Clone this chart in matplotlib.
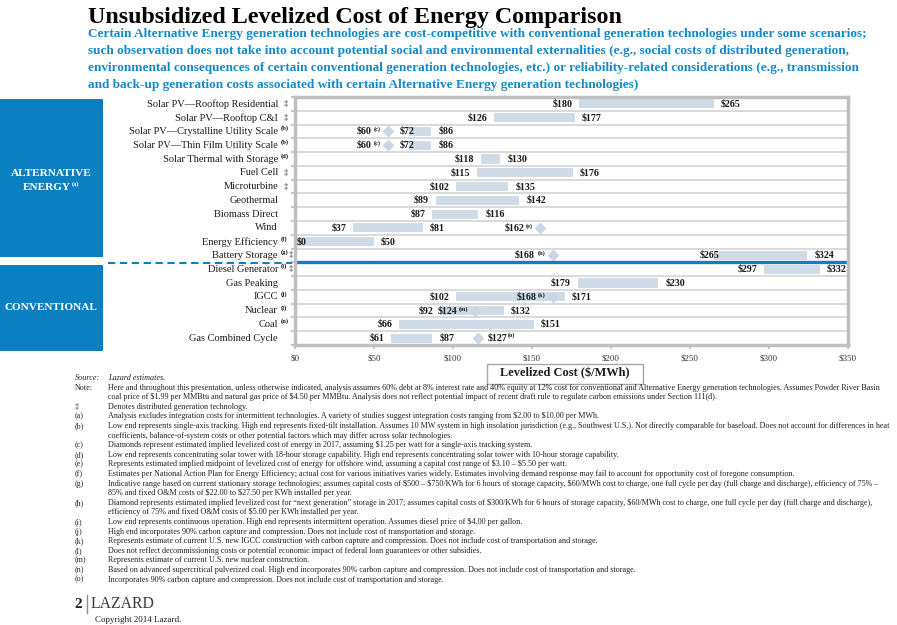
import numpy as np
import matplotlib
matplotlib.use('Agg')
import matplotlib.pyplot as plt
from matplotlib.transforms import Affine2D, blended_transform_factory
from matplotlib.patches import Rectangle
from matplotlib.lines import Line2D

# ---------------- data ----------------
categories = ["Solar PV\u2014Rooftop Residential", "Solar PV\u2014Rooftop C&I",
              "Solar PV\u2014Crystalline Utility Scale", "Solar PV\u2014Thin Film Utility Scale",
              "Solar Thermal with Storage", "Fuel Cell", "Microturbine", "Geothermal",
              "Biomass Direct", "Wind", "Energy Efficiency", "Battery Storage",
              "Diesel Generator", "Gas Peaking", "IGCC", "Nuclear", "Coal", "Gas Combined Cycle"]
category_notes = ["", "", "(b)", "(b)", "(d)", "", "", "", "", "", "(f)", "(g)",
                  "(i)", "", "(j)", "(l)", "(n)", ""]
distributed = [True, True, False, False, False, True, True, False, False, False, False, True,
               True, False, False, False, False, False]
low = [180, 126, 72, 72, 118, 115, 102, 89, 87, 37, 0, 265, 297, 179, 102, 92, 66, 61]
high = [265, 177, 86, 86, 130, 176, 135, 142, 116, 81, 50, 324, 332, 230, 171, 132, 151, 87]
diamond = [None, None, 59, 59, None, None, None, None, None, 155, None, 163,
           None, None, 163, 114, None, 116]
diamond_label = [None, None, "$60", "$60", None, None, None, None, None, "$162", None, "$168",
                 None, None, "$168", "$124", None, "$127"]
diamond_note = [None, None, "(c)", "(c)", None, None, None, None, None, "(e)", None, "(h)",
                None, None, "(k)", "(m)", None, "(o)"]
n_alternative = 12
x_ticks = [0, 50, 100, 150, 200, 250, 300, 350]
x_tick_labels = ["$0", "$50", "$100", "$150", "$200", "$250", "$300", "$350"]

title = "Unsubsidized Levelized Cost of Energy Comparison"
subtitle = [
    "Certain Alternative Energy generation technologies are cost-competitive with conventional generation technologies under some scenarios;",
    "such observation does not take into account potential social and environmental externalities (e.g., social costs of distributed generation,",
    "environmental consequences of certain conventional generation technologies, etc.) or reliability-related considerations (e.g., transmission",
    "and back-up generation costs associated with certain Alternative Energy generation technologies)",
]
x_label = "Levelized Cost ($/MWh)"
footnotes = [
    ("Source:", "Lazard estimates."),
    ("Note:", "Here and throughout this presentation, unless otherwise indicated, analysis assumes 60% debt at 8% interest rate and 40% equity at 12% cost for conventional and Alternative Energy generation technologies. Assumes Powder River Basin"),
    ("", "coal price of $1.99 per MMBtu and natural gas price of $4.50 per MMBtu. Analysis does not reflect potential impact of recent draft rule to regulate carbon emissions under Section 111(d)."),
    ("\u2021", "Denotes distributed generation technology."),
    ("(a)", "Analysis excludes integration costs for intermittent technologies. A variety of studies suggest integration costs ranging from $2.00 to $10.00 per MWh."),
    ("(b)", "Low end represents single-axis tracking. High end represents fixed-tilt installation. Assumes 10 MW system in high insolation jurisdiction (e.g., Southwest U.S.). Not directly comparable for baseload. Does not account for differences in heat"),
    ("", "coefficients, balance-of-system costs or other potential factors which may differ across solar technologies."),
    ("(c)", "Diamonds represent estimated implied levelized cost of energy in 2017, assuming $1.25 per watt for a single-axis tracking system."),
    ("(d)", "Low end represents concentrating solar tower with 18-hour storage capability. High end represents concentrating solar tower with 10-hour storage capability."),
    ("(e)", "Represents estimated implied midpoint of levelized cost of energy for offshore wind, assuming a capital cost range of $3.10 \u2013 $5.50 per watt."),
    ("(f)", "Estimates per National Action Plan for Energy Efficiency; actual cost for various initiatives varies widely. Estimates involving demand response may fail to account for opportunity cost of foregone consumption."),
    ("(g)", "Indicative range based on current stationary storage technologies; assumes capital costs of $500 \u2013 $750/KWh for 6 hours of storage capacity, $60/MWh cost to charge, one full cycle per day (full charge and discharge), efficiency of 75% \u2013"),
    ("", "85% and fixed O&M costs of $22.00 to $27.50 per KWh installed per year."),
    ("(h)", "Diamond represents estimated implied levelized cost for \u201cnext generation\u201d storage in 2017; assumes capital costs of $300/KWh for 6 hours of storage capacity, $60/MWh cost to charge, one full cycle per day (full charge and discharge),"),
    ("", "efficiency of 75% and fixed O&M costs of $5.00 per KWh installed per year."),
    ("(i)", "Low end represents continuous operation. High end represents intermittent operation. Assumes diesel price of $4.00 per gallon."),
    ("(j)", "High end incorporates 90% carbon capture and compression. Does not include cost of transportation and storage."),
    ("(k)", "Represents estimate of current U.S. new IGCC construction with carbon capture and compression. Does not include cost of transportation and storage."),
    ("(l)", "Does not reflect decommissioning costs or potential economic impact of federal loan guarantees or other subsidies."),
    ("(m)", "Represents estimate of current U.S. new nuclear construction."),
    ("(n)", "Based on advanced supercritical pulverized coal. High end incorporates 90% carbon capture and compression. Does not include cost of transportation and storage."),
    ("(o)", "Incorporates 90% carbon capture and compression. Does not include cost of transportation and storage."),
]

# ---------------- style ----------------
W, H = 897, 625
SERIF = ['Liberation Serif', 'DejaVu Serif']
plt.rcParams['font.family'] = SERIF
BLUE_BOX = '#0a7fc1'
BLUE_TXT = '#1389c9'
BAR = '#cfdbe6'
DIAM = '#cad6e2'
GRID = '#d9d9d9'
SPINE = '#bfbfbf'
TXT = '#1a1a1a'
NM = dict(parse_math=False)

fig = plt.figure(figsize=(W / 100, H / 100), dpi=100)
renderer = fig.canvas.get_renderer()
pix = Affine2D().scale(1.0 / W, -1.0 / H).translate(0, 1) + fig.transFigure


def fit(s, width, **kw):
    t = fig.text(0, 0, s, fontsize=10, parse_math=False, **kw)
    w = t.get_window_extent(renderer).width
    t.remove()
    return 10.0 * width / w


# ---------------- header ----------------
fig.text(88, 23, title, transform=pix, ha='left', va='baseline', fontweight='bold',
         fontsize=fit(title, 534, fontweight='bold'), color='black', **NM)
sub_fs = fit(subtitle[0], 778, fontweight='bold')
for i, line in enumerate(subtitle):
    fig.text(88, 37.5 + i * 16.9, line, transform=pix, ha='left', va='baseline',
             fontweight='bold', fontsize=sub_fs, color=BLUE_TXT, **NM)

# ---------------- axes ----------------
ax = fig.add_axes([295 / W, 1 - 345 / H, 553 / W, 248 / H])
ax.set_xlim(0, 350)
ax.set_ylim(len(categories) - 0.5, -0.5)
rows = np.arange(len(categories))
ax.barh(rows, np.array(high) - np.array(low), left=low, height=0.66, color=BAR, zorder=2)
dx = [d for d in diamond if d is not None]
dy = [r for r, d in zip(rows, diamond) if d is not None]
ax.plot(dx, dy, 'D', ms=4.9, color=DIAM, mec=DIAM, zorder=3, clip_on=False)

for b in np.arange(0.5, len(categories) - 1, 1.0):
    if abs(b - (n_alternative - 0.5)) < 1e-6:
        ax.axhline(b, color=BLUE_BOX, lw=2.4, zorder=4)
    else:
        ax.axhline(b, color=GRID, lw=1.4, zorder=1)

for sp in ax.spines.values():
    sp.set_color(SPINE)
    sp.set_linewidth(2.5)
    sp.set_zorder(5)

ax.set_yticks(np.arange(-0.5, len(categories), 1.0))
ax.set_yticklabels([])
ax.tick_params(axis='y', length=3, width=1.3, color=SPINE)
tick_fs = fit("$350", 18)
ax.set_xticks(x_ticks)
ax.set_xticklabels(x_tick_labels, **NM)
ax.tick_params(axis='x', length=3, width=1.3, color=SPINE, pad=4, labelsize=tick_fs,
               labelcolor='#333333')

# value labels
val_fs = fit("$180", 20, fontweight='bold')
sup_fs = val_fs * 0.62
VKW = dict(textcoords='offset pixels', fontweight='bold', fontsize=val_fs, color=TXT,
           zorder=6, annotation_clip=False, parse_math=False)
for r in rows:
    lo, hi = low[r], high[r]
    d = diamond[r]
    before = d is not None and d < lo
    if lo == 0:
        ax.annotate(f"${lo}", xy=(lo, r), xytext=(2, 0), ha='left', va='center', **VKW)
    else:
        off = 6 if before else -7
        ax.annotate(f"${lo}", xy=(lo, r), xytext=(off, 0), ha='right', va='center', **VKW)
    hoff = 8 if before else 7
    ax.annotate(f"${hi}", xy=(hi, r), xytext=(hoff, 0), ha='left', va='center', **VKW)
    if d is None:
        continue
    if r == len(categories) - 1:
        main = ax.annotate(diamond_label[r], xy=(d, r), xytext=(9, 0), ha='left',
                           va='center', **VKW)
        ax.annotate(diamond_note[r], xy=(1, 0.5), xycoords=main, xytext=(1, 0),
                    textcoords='offset pixels', ha='left', va='bottom', fontweight='bold',
                    fontsize=sup_fs, color=TXT, zorder=6, parse_math=False)
    else:
        sup = ax.annotate(diamond_note[r], xy=(d, r), xytext=(-7, -1),
                          textcoords='offset pixels', ha='right', va='bottom',
                          fontweight='bold', fontsize=sup_fs, color=TXT, zorder=6,
                          annotation_clip=False, parse_math=False)
        gap = -3 if before else -1
        kw = dict(VKW)
        ax.annotate(diamond_label[r], xy=(0, 0), xycoords=sup, xytext=(gap, 1),
                    ha='right', va='center', **kw)

# category labels
lab_tr = blended_transform_factory(pix, ax.transData)
cat_fs = fit(categories[0], 132)
note_fs = cat_fs * 0.62
for r, name in enumerate(categories):
    ax.text(278, r, name, transform=lab_tr, ha='right', va='center', fontsize=cat_fs,
            color=TXT, clip_on=False, **NM)
    note = category_notes[r]
    if note:
        ax.annotate(note, xy=(281, r), xycoords=lab_tr, xytext=(0, 0),
                    textcoords='offset pixels', ha='left', va='bottom',
                    fontsize=note_fs, fontweight='bold', color=TXT, annotation_clip=False)
    if distributed[r]:
        xx = 289 if note else 284
        ax.annotate("\u2021", xy=(xx, r), xycoords=lab_tr, ha='left', va='center',
                    fontsize=cat_fs * 0.8, color=TXT, annotation_clip=False)

# x label box
fig.add_artist(Rectangle((487, 363.5), 156, 20, transform=pix, fc='white', ec='#a6a6a6',
                         lw=1.0))
fig.text(565, 373.5, x_label, transform=pix, ha='center', va='center', fontweight='bold',
         fontsize=fit(x_label, 130, fontweight='bold'), color=TXT, **NM)

# ---------------- left side boxes ----------------
fig.add_artist(Rectangle((0, 99), 103, 157.5, transform=pix, color=BLUE_BOX, lw=0))
fig.add_artist(Rectangle((0, 265), 103, 86, transform=pix, color=BLUE_BOX, lw=0))
box_fs = fit("CONVENTIONAL", 93, fontweight='bold')
fig.text(51, 173, "ALTERNATIVE", transform=pix, ha='center', va='center',
         fontweight='bold', fontsize=box_fs, color='white', **NM)
fig.text(71, 187, "ENERGY", transform=pix, ha='right', va='center',
         fontweight='bold', fontsize=box_fs, color='white', **NM)
fig.text(71.5, 184, "(a)", transform=pix, ha='left', va='center', fontweight='bold',
         fontsize=box_fs * 0.55, color='white', **NM)
fig.text(51, 308, "CONVENTIONAL", transform=pix, ha='center', va='center',
         fontweight='bold', fontsize=box_fs, color='white', **NM)
fig.add_artist(Line2D([108, 292], [262.5, 262.5], transform=pix, color=BLUE_BOX, lw=1.5,
                      dashes=(3.5, 2.2)))

# ---------------- footnotes ----------------
fn_fs = fit(footnotes[1][1], 775)
for i, (mk, txt) in enumerate(footnotes):
    yy = 378 + i * 9.6
    style = 'italic' if i == 0 else 'normal'
    if mk:
        fig.text(75, yy, mk, transform=pix, ha='left', va='center', fontsize=fn_fs,
                 style=style, color='#222222', **NM)
    fig.text(108, yy, txt, transform=pix, ha='left', va='center', fontsize=fn_fs,
             style=style, color='#222222', **NM)

# ---------------- footer ----------------
fig.text(82, 604, "2", transform=pix, ha='right', va='center', fontweight='bold',
         fontsize=11, color='#222222', **NM)
fig.add_artist(Line2D([87, 87], [595, 613], transform=pix, color='#8c8c8c', lw=1.0))
fig.text(91, 604, "LAZARD", transform=pix, ha='left', va='center',
         fontsize=fit("LAZARD", 64), color='#3a3a3a', **NM)
fig.text(95, 620, "Copyright 2014 Lazard.", transform=pix, ha='left', va='center',
         fontsize=fit("Copyright 2014 Lazard.", 87), color='#222222', **NM)

fig.savefig('out.png', dpi=100)
